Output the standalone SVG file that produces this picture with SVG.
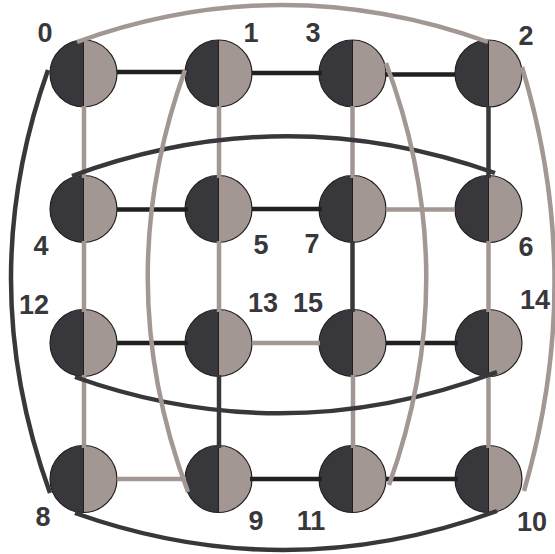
<svg xmlns="http://www.w3.org/2000/svg" xmlns:xlink="http://www.w3.org/1999/xlink" width="555" height="554" viewBox="0 0 555 554">
<style>
.lbl{font-family:"Liberation Sans",Arial,sans-serif;font-weight:bold;font-size:27px;fill:#38373c;text-anchor:middle}
.k{stroke:#231f20;stroke-width:4.5;fill:none}
.d{stroke:#38373c;stroke-width:4.5;fill:none}
.g{stroke:#a39793;stroke-width:4.5;fill:none}
</style>
<defs>
<g id="disc">
<path d="M0,-33.5 A33.5,33.5 0 0 0 0,33.5 Z" fill="#38373c"/>
<path d="M0,-33.5 A33.5,33.5 0 0 1 0,33.5 Z" fill="#a39793"/>
<circle r="33.5" fill="none" stroke="#231f20" stroke-width="1.2"/>
<line x1="0" y1="-33.5" x2="0" y2="33.5" stroke="#231f20" stroke-width="1"/>
</g>
</defs>
<rect width="555" height="554" fill="#ffffff"/>
<g id="n0"><use xlink:href="#disc" x="83.5" y="73.5"/><text class="lbl" x="45" y="42">0</text></g>
<g id="n1"><use xlink:href="#disc" x="218.5" y="73.5"/><text class="lbl" x="251" y="42">1</text></g>
<g id="n3"><use xlink:href="#disc" x="352.5" y="73.5"/><text class="lbl" x="313" y="42">3</text></g>
<g id="n2"><use xlink:href="#disc" x="488.5" y="73.5"/><text class="lbl" x="526" y="45">2</text></g>
<g id="n4"><use xlink:href="#disc" x="83.5" y="209"/><text class="lbl" x="41" y="255">4</text></g>
<g id="n5"><use xlink:href="#disc" x="218.5" y="209"/><text class="lbl" x="261" y="254">5</text></g>
<g id="n7"><use xlink:href="#disc" x="352.5" y="209"/><text class="lbl" x="312" y="253">7</text></g>
<g id="n6"><use xlink:href="#disc" x="488.5" y="209"/><text class="lbl" x="526" y="256">6</text></g>
<g id="n12"><use xlink:href="#disc" x="83.5" y="343"/><text class="lbl" x="34" y="314">12</text></g>
<g id="n13"><use xlink:href="#disc" x="218.5" y="343"/><text class="lbl" x="263" y="312">13</text></g>
<g id="n15"><use xlink:href="#disc" x="352.5" y="343"/><text class="lbl" x="308" y="312">15</text></g>
<g id="n14"><use xlink:href="#disc" x="488.5" y="343"/><text class="lbl" x="535" y="309">14</text></g>
<g id="n8"><use xlink:href="#disc" x="83.5" y="479"/><text class="lbl" x="43" y="526">8</text></g>
<g id="n9"><use xlink:href="#disc" x="218.5" y="479"/><text class="lbl" x="256" y="530">9</text></g>
<g id="n11"><use xlink:href="#disc" x="352.5" y="479"/><text class="lbl" x="311" y="530">11</text></g>
<g id="n10"><use xlink:href="#disc" x="488.5" y="479"/><text class="lbl" x="532" y="531">10</text></g>
<g id="connectors">
<line class="k" x1="117" y1="72" x2="188" y2="72"/>
<line class="k" x1="252" y1="73" x2="322" y2="73"/>
<line class="k" x1="385" y1="74.5" x2="455" y2="74.5"/>
<line class="k" x1="117" y1="209.5" x2="188" y2="209.5"/>
<line class="k" x1="252" y1="209" x2="322" y2="209"/>
<line class="g" x1="386" y1="209.5" x2="455" y2="209.5"/>
<line class="k" x1="117" y1="343" x2="188" y2="343"/>
<line class="g" x1="252" y1="343" x2="320" y2="343"/>
<line class="k" x1="386" y1="343" x2="458" y2="343"/>
<line class="g" x1="117" y1="479" x2="186" y2="479"/>
<line class="k" x1="250" y1="479" x2="322" y2="479"/>
<line class="k" x1="386" y1="479" x2="458" y2="479"/>
<line class="g" x1="84" y1="106" x2="84" y2="178"/>
<line class="g" x1="84" y1="241" x2="84" y2="312"/>
<line class="g" x1="84" y1="375" x2="84" y2="448"/>
<line class="g" x1="219" y1="106" x2="219" y2="178"/>
<line class="g" x1="219" y1="241" x2="219" y2="312"/>
<line class="d" x1="219" y1="375" x2="219" y2="448"/>
<line class="g" x1="352.5" y1="106" x2="352.5" y2="178"/>
<line class="d" x1="352.5" y1="241" x2="352.5" y2="312"/>
<line class="g" x1="353" y1="375" x2="353" y2="448"/>
<line class="d" x1="488.5" y1="106" x2="488.5" y2="178"/>
<line class="g" x1="488.5" y1="241" x2="488.5" y2="312"/>
<line class="g" x1="488.5" y1="375" x2="488.5" y2="448"/>
<path class="g" d="M77,42 Q282,-32 488,42"/>
<path class="d" d="M48,70 Q-27,281 50,493"/>
<path class="g" d="M522,67 Q586,279 524,491"/>
<path class="d" d="M75,513 Q286,588 497,511"/>
<path class="d" d="M72,176 Q283,98 495,173"/>
<path class="d" d="M75,377 Q286,452 497,372"/>
<path class="g" d="M185,70 Q109,281 188,492"/>
<path class="g" d="M386,63 Q465,274 389,485"/>
</g>
</svg>
